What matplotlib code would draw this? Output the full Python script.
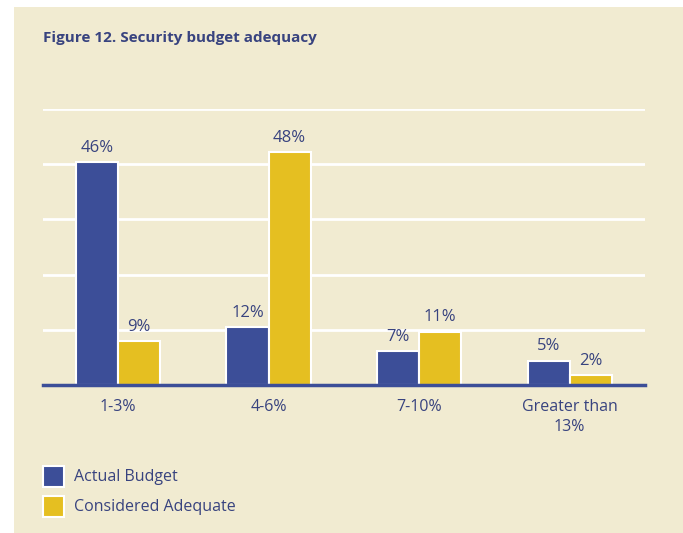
import numpy as np
import matplotlib
matplotlib.use('Agg')
import matplotlib.pyplot as plt
from matplotlib.patches import Rectangle, Patch

plt.rcParams['font.family'] = ['Open Sans', 'DejaVu Sans']

categories = ['1-3%', '4-6%', '7-10%', 'Greater than\n13%']
actual_budget = [46, 12, 7, 5]
considered_adequate = [9, 48, 11, 2]
series_names = ['Actual Budget', 'Considered Adequate']

navy = '#3c4e98'
gold = '#e5bf21'
text_col = '#38437f'
bg = '#f1ebd1'

W, H = 683, 533
fig = plt.figure(figsize=(W / 100, H / 100), dpi=100, facecolor='white')
fig.patches.append(Rectangle((14 / W, 0), 1, 1 - 7 / H, transform=fig.transFigure,
                             facecolor=bg, edgecolor='none', zorder=-10))

ax = fig.add_axes([42.7 / W, 1 - 385 / H, (645 - 42.7) / W, (385 - 109) / H])
ax.set_facecolor('none')

x = np.arange(len(categories))
w = 0.28
b1 = ax.bar(x - w / 2, actual_budget, w, color=navy, edgecolor='white', linewidth=1.5, zorder=3)
b2 = ax.bar(x + w / 2, considered_adequate, w, color=gold, edgecolor='white', linewidth=1.5, zorder=3)

# percentage labels above each bar
for bars, vals in ((b1, actual_budget), (b2, considered_adequate)):
    for r, v in zip(bars, vals):
        ax.annotate(f'{v}%', (r.get_x() + r.get_width() / 2, v), xytext=(0, 4.5),
                    textcoords='offset points', ha='center', va='bottom',
                    fontsize=12, color=text_col)

step = 11.38
ax.set_ylim(0, 5 * step)
ax.set_xlim(-0.5, 3.5)
ax.set_yticks(np.arange(1, 6) * step)
ax.set_yticklabels([])
ax.yaxis.grid(True, color='white', linewidth=2)
ax.tick_params(axis='y', length=0)
ax.set_axisbelow(True)

ax.set_xticks(x)
ax.set_xticklabels(categories, fontsize=11.5, color=text_col, linespacing=1.35)
ax.tick_params(axis='x', length=0, pad=10)

for s in ('top', 'right', 'left'):
    ax.spines[s].set_visible(False)
ax.spines['bottom'].set_color(navy)
ax.spines['bottom'].set_linewidth(2.5)
ax.spines['bottom'].set_zorder(4)

fig.text(43 / W, 1 - 38 / H, 'Figure 12. Security budget adequacy', fontsize=11,
         fontweight='bold', color=text_col, va='center', ha='left')

handles = [Patch(facecolor=navy, edgecolor='white', linewidth=1.5),
           Patch(facecolor=gold, edgecolor='white', linewidth=1.5)]
leg = fig.legend(handles, series_names, loc='upper left',
                 bbox_to_anchor=(42.7 / W, 1 - 465.7 / H), frameon=False,
                 borderpad=0, borderaxespad=0, fontsize=11.5,
                 handlelength=1.31, handleheight=1.64, handletextpad=0.63,
                 labelspacing=0.57)
for t in leg.get_texts():
    t.set_color(text_col)

fig.savefig('out.png', dpi=100, facecolor='white')
